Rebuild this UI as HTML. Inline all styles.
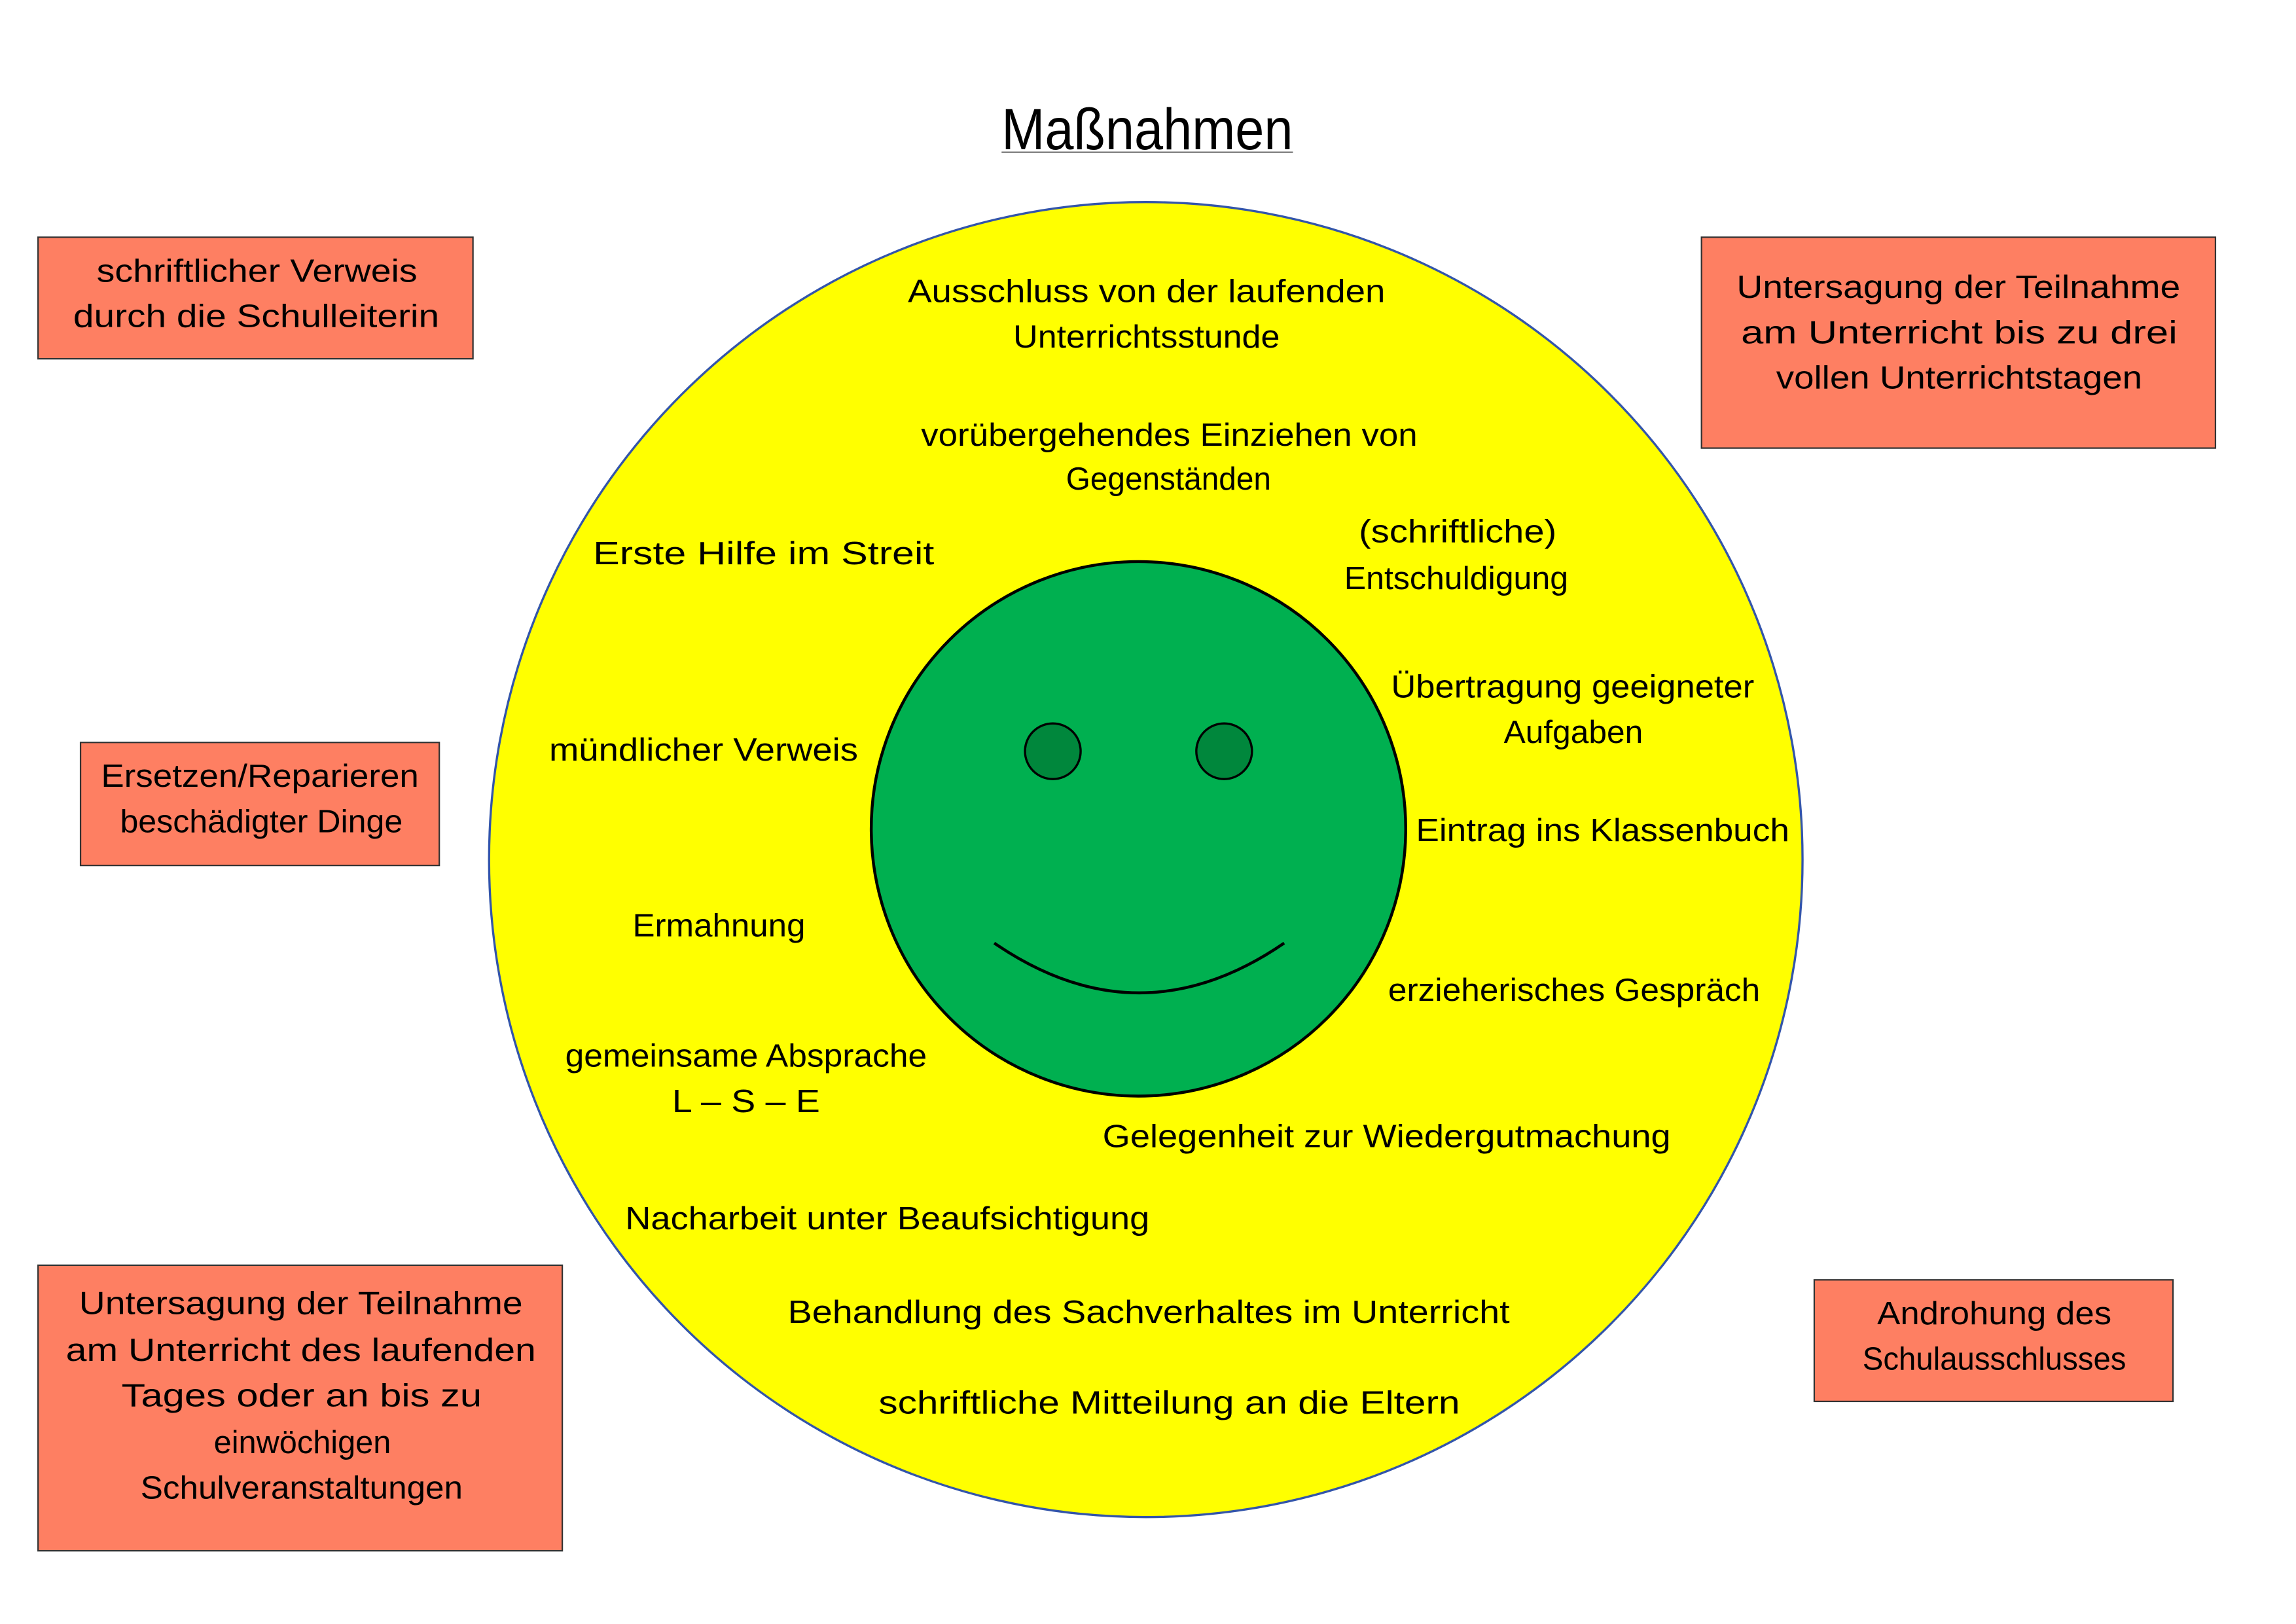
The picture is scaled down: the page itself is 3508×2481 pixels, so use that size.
<!DOCTYPE html>
<html><head><meta charset="utf-8"><style>
html,body{margin:0;padding:0;background:#fff}
svg{display:block}
text{font-family:"Liberation Sans",sans-serif;fill:#000}
</style></head><body>
<svg width="3508" height="2481" viewBox="0 0 1568 1109" preserveAspectRatio="none" xmlns="http://www.w3.org/2000/svg">
<rect width="1568" height="1109" fill="#fff"/>
<text x="684" y="102" font-size="40" textLength="199" lengthAdjust="spacingAndGlyphs">Maßnahmen</text>
<line x1="684" y1="104" x2="883" y2="104" stroke="#777" stroke-width="1"/>
<ellipse cx="782.5" cy="587" rx="448.5" ry="449" fill="#ffff00" stroke="#3355aa" stroke-width="1.5"/>
<circle cx="777.5" cy="566" r="182.5" fill="#00b050" stroke="#000" stroke-width="2"/>
<circle cx="719" cy="513" r="19" fill="#00873c" stroke="#000" stroke-width="1.5"/>
<circle cx="836" cy="513" r="19" fill="#00873c" stroke="#000" stroke-width="1.5"/>
<path d="M679 644 Q778 712 877 644" fill="none" stroke="#000" stroke-width="2"/>
<g fill="#fe7f62" stroke="#333" stroke-width="1">
<rect x="26" y="162" width="297" height="83"/>
<rect x="1162" y="162" width="351" height="144"/>
<rect x="55" y="507" width="245" height="84"/>
<rect x="26" y="864" width="358" height="195"/>
<rect x="1239" y="874" width="245" height="83"/>
</g>
<g font-size="22" dominant-baseline="central">
<text x="620" y="199" textLength="326" lengthAdjust="spacingAndGlyphs">Ausschluss von der laufenden</text>
<text x="692" y="230" textLength="182" lengthAdjust="spacingAndGlyphs">Unterrichtsstunde</text>
<text x="629" y="297" textLength="339" lengthAdjust="spacingAndGlyphs">vorübergehendes Einziehen von</text>
<text x="728" y="327" textLength="140" lengthAdjust="spacingAndGlyphs">Gegenständen</text>
<text x="928" y="363" textLength="135" lengthAdjust="spacingAndGlyphs">(schriftliche)</text>
<text x="918" y="395" textLength="153" lengthAdjust="spacingAndGlyphs">Entschuldigung</text>
<text x="405" y="378" textLength="233" lengthAdjust="spacingAndGlyphs">Erste Hilfe im Streit</text>
<text x="950" y="469" textLength="248" lengthAdjust="spacingAndGlyphs">Übertragung geeigneter</text>
<text x="1027" y="500" textLength="95" lengthAdjust="spacingAndGlyphs">Aufgaben</text>
<text x="375" y="512" textLength="211" lengthAdjust="spacingAndGlyphs">mündlicher Verweis</text>
<text x="967" y="567" textLength="255" lengthAdjust="spacingAndGlyphs">Eintrag ins Klassenbuch</text>
<text x="432" y="632" textLength="118" lengthAdjust="spacingAndGlyphs">Ermahnung</text>
<text x="948" y="676" textLength="254" lengthAdjust="spacingAndGlyphs">erzieherisches Gespräch</text>
<text x="386" y="721" textLength="247" lengthAdjust="spacingAndGlyphs">gemeinsame Absprache</text>
<text x="459" y="752" textLength="101" lengthAdjust="spacingAndGlyphs">L – S – E</text>
<text x="753" y="776" textLength="388" lengthAdjust="spacingAndGlyphs">Gelegenheit zur Wiedergutmachung</text>
<text x="427" y="832" textLength="358" lengthAdjust="spacingAndGlyphs">Nacharbeit unter Beaufsichtigung</text>
<text x="538" y="896" textLength="493" lengthAdjust="spacingAndGlyphs">Behandlung des Sachverhaltes im Unterricht</text>
<text x="600" y="958" textLength="397" lengthAdjust="spacingAndGlyphs">schriftliche Mitteilung an die Eltern</text>
<text x="66" y="185" textLength="219" lengthAdjust="spacingAndGlyphs">schriftlicher Verweis</text>
<text x="50" y="216" textLength="250" lengthAdjust="spacingAndGlyphs">durch die Schulleiterin</text>
<text x="1186" y="196" textLength="303" lengthAdjust="spacingAndGlyphs">Untersagung der Teilnahme</text>
<text x="1189" y="227" textLength="298" lengthAdjust="spacingAndGlyphs">am Unterricht bis zu drei</text>
<text x="1213" y="258" textLength="250" lengthAdjust="spacingAndGlyphs">vollen Unterrichtstagen</text>
<text x="69" y="530" textLength="217" lengthAdjust="spacingAndGlyphs">Ersetzen/Reparieren</text>
<text x="82" y="561" textLength="193" lengthAdjust="spacingAndGlyphs">beschädigter Dinge</text>
<text x="54" y="890" textLength="303" lengthAdjust="spacingAndGlyphs">Untersagung der Teilnahme</text>
<text x="45" y="922" textLength="321" lengthAdjust="spacingAndGlyphs">am Unterricht des laufenden</text>
<text x="83" y="953" textLength="246" lengthAdjust="spacingAndGlyphs">Tages oder an bis zu</text>
<text x="146" y="985" textLength="121" lengthAdjust="spacingAndGlyphs">einwöchigen</text>
<text x="96" y="1016" textLength="220" lengthAdjust="spacingAndGlyphs">Schulveranstaltungen</text>
<text x="1282" y="897" textLength="160" lengthAdjust="spacingAndGlyphs">Androhung des</text>
<text x="1272" y="928" textLength="180" lengthAdjust="spacingAndGlyphs">Schulausschlusses</text>
</g>
</svg>
</body></html>
